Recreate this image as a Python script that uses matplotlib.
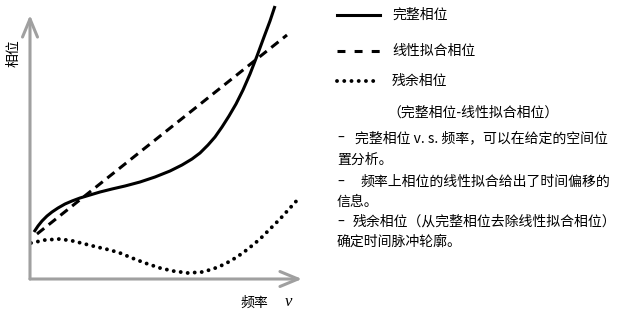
import matplotlib
matplotlib.use("Agg")
import matplotlib.pyplot as plt
from matplotlib.lines import Line2D

plt.rcParams['font.family'] = ['Noto Sans CJK SC', 'DejaVu Sans']

# schematic data (arbitrary units)
full_x = [4, 8, 12, 17, 22, 28, 35, 42, 50, 60, 70, 82, 95, 110, 125, 140, 152, 162,
          170, 178, 185, 192, 199, 206, 213, 220, 227, 234, 240, 245]
full_y = [47, 53, 58, 63, 67, 71, 75, 78, 81, 84, 87, 90, 93, 97, 102, 108, 114, 120,
          126, 134, 142, 152, 163, 175, 189, 205, 223, 242, 258, 273]

fit_x = [7, 257]
fit_y = [45, 244]

resid_x = [1, 15, 30, 43, 55, 67, 80, 90, 102, 115, 130, 143, 158, 172, 183, 195, 207,
           218, 230, 240, 250, 260, 270]
resid_y = [36, 39, 40, 38, 35, 32, 29, 26, 21, 16, 11, 8, 6, 7, 10, 15, 22,
           30, 40, 50, 60, 71, 82]

legend_labels = ['完整相位', '线性拟合相位', '残余相位']
note_title = '（完整相位-线性拟合相位）'
notes = [
    ('-', '完整相位 v. s. 频率，可以在给定的空间位'),
    ('', '置分析。'),
    ('-', '频率上相位的线性拟合给出了时间偏移的'),
    ('', '信息。'),
    ('-', '残余相位（从完整相位去除线性拟合相位）'),
    ('', '确定时间脉冲轮廓。'),
]

fig = plt.figure(figsize=(6.17, 3.13), dpi=100)
ax = fig.add_axes([30/617, 34/313, 280/617, 279/313])
ax.set_xlim(0, 280)
ax.set_ylim(0, 279)
ax.axis('off')

gray = '#a0a0a0'
arrow = dict(arrowstyle='->,head_length=13,head_width=5.4', lw=2.2, color=gray,
             shrinkA=0, shrinkB=0, mutation_scale=1)
ax.annotate('', xy=(0, 264), xytext=(0, 0), arrowprops=arrow, annotation_clip=False)
ax.annotate('', xy=(272, 0), xytext=(0, 0), arrowprops=arrow, annotation_clip=False)

ax.plot(full_x, full_y, color='black', lw=2.2, clip_on=False, solid_capstyle='butt',
        solid_joinstyle='round')
ax.plot(fit_x, fit_y, color='black', lw=2.2, dashes=(3.0, 1.9), clip_on=False)
ax.plot(resid_x, resid_y, color='black', lw=2.8, dashes=(0.01, 1.8),
        dash_capstyle='round', clip_on=False)

# overlay in pixel units for text and legend keys
ov = fig.add_axes([0, 0, 1, 1])
ov.set_xlim(0, 617)
ov.set_ylim(313, 0)
ov.axis('off')
ov.patch.set_alpha(0)

ov.text(13, 53, '相位', rotation=90, fontsize=10, ha='center', va='center')
ov.text(254, 303, '频率', fontsize=10, ha='center', va='center')
ov.text(288, 302, 'ν', fontsize=12, ha='center', va='center',
        family='Liberation Serif', style='italic')

keys = [dict(ls='-'), dict(dashes=(2.6, 3.0)), dict(dashes=(0.01, 1.85), dash_capstyle='round', lw=2.8)]
key_y = [15, 51, 81]
for k, yy, lab in zip(keys, key_y, legend_labels):
    kw = dict(color='black', lw=2.2)
    kw.update(k)
    ov.add_line(Line2D([337, 380], [yy, yy], **kw))
    ov.text(392, yy, lab, fontsize=10, ha='left', va='center')

ov.text(473, 113, note_title, fontsize=10, ha='center', va='center')
note_y = [138, 160, 182, 202, 222, 242]
text_x = [355, 337, 360, 337, 353, 337]
for (d, t), yy, tx in zip(notes, note_y, text_x):
    if d:
        ov.text(341, yy, '–', fontsize=10, ha='center', va='center', family='DejaVu Sans')
    ov.text(tx, yy, t, fontsize=10, ha='left', va='center')

fig.savefig('out.png', dpi=100)
